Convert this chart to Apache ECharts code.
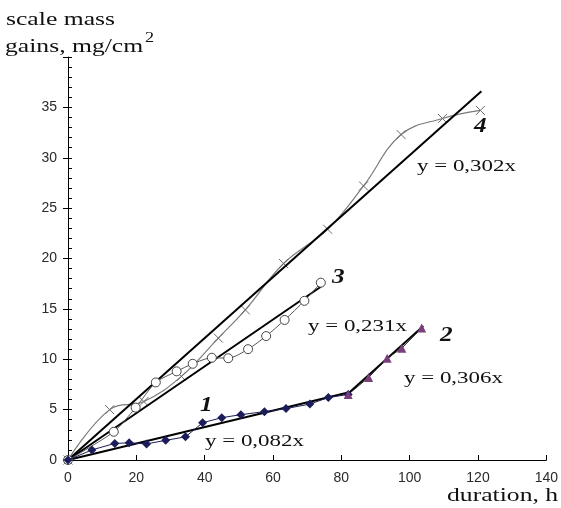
<!DOCTYPE html>
<html><head><meta charset="utf-8">
<script src="https://cdn.jsdelivr.net/npm/echarts@6/dist/echarts.min.js"></script>
<style>html,body{margin:0;padding:0;background:#fff}#c{width:561px;height:508px}</style>
</head><body><div id="c"></div>
<script>
// Series 1 (diamonds)
const s1x = [0, 7, 13.7, 17.9, 23, 28.6, 34.4, 39.4, 45, 50.6, 57.5, 63.8, 70.8, 76.2, 82];
const s1y = [0, 1.0, 1.65, 1.7, 1.6, 1.95, 2.3, 3.7, 4.2, 4.5, 4.8, 5.1, 5.55, 6.2, 6.5];
// Series 2 (triangles)
const s2x = [82, 88, 93.4, 97.7, 103.5];
const s2y = [6.5, 8.2, 10.1, 11.1, 13.1];
// Series 3 (circles)
const s3x = [0, 13.4, 19.8, 25.7, 31.8, 36.5, 42.1, 46.9, 52.7, 58, 63.4, 69.2, 74];
const s3y = [0, 2.8, 5.2, 7.7, 8.8, 9.55, 10.15, 10.1, 11.0, 12.3, 13.9, 15.8, 17.6];
// Series 4 (crosses)
const s4x = [0, 12.2, 22.2, 33.2, 44, 51.9, 63.1, 76, 86.5, 97.5, 109.6, 120.7];
const s4y = [0, 5.0, 5.8, 8.3, 12.1, 14.9, 19.5, 22.9, 27.2, 32.3, 33.9, 34.7];
// Trend lines (endpoints)
const t1x = [0, 82], t1y = [0, 6.7];
const t2x = [82, 104], t2y = [6.6, 13.3];
const t3x = [0, 74], t3y = [0, 17.2];
const t4x = [0, 121], t4y = [0, 36.6];
// Texts
const xTicks = [0, 20, 40, 60, 80, 100, 120, 140];
const yTicks = [0, 5, 10, 15, 20, 25, 30, 35];
const eqLabels = ['y = 0,082x', 'y = 0,306x', 'y = 0,231x', 'y = 0,302x'];
const numLabels = ['1', '2', '3', '4'];

const zip = (xs, ys) => xs.map((x, i) => [x, ys[i]]);
const chart = echarts.init(document.getElementById('c'));
const serif = '"Liberation Serif", "Times New Roman", serif';
const sans = '"Liberation Sans", Arial, sans-serif';
const crossPath = 'path://M0,0L10,10M10,0L0,10';

const trend = (xs, ys) => ({
  type: 'line', data: zip(xs, ys), symbol: 'none', silent: true, z: 3,
  lineStyle: { color: '#000', width: 2 }
});
const txt = (text, x, y, font, sx) => ({
  type: 'text', x: x, y: y, scaleX: sx, scaleY: 1,
  style: { text: text, font: font, fill: '#111', textVerticalAlign: 'middle', verticalAlign: 'middle' }
});

chart.setOption({
  animation: false,
  grid: { left: 68, right: 13, top: 57, bottom: 48 },
  xAxis: {
    type: 'value', min: 0, max: 140, interval: 20,
    splitLine: { show: false },
    axisLine: { lineStyle: { color: '#000', width: 1 } },
    axisTick: { inside: true, length: 5, lineStyle: { color: '#000' } },
    axisLabel: { color: '#2a2a2a', fontFamily: sans, fontSize: 14, margin: 11,
      formatter: v => xTicks.includes(v) ? String(v) : '' }
  },
  yAxis: [{
    type: 'value', min: 0, max: 40, interval: 5,
    splitLine: { show: false },
    axisLine: { lineStyle: { color: '#000', width: 1 } },
    axisTick: { inside: false, length: 5, lineStyle: { color: '#000' } },
    axisLabel: { color: '#2a2a2a', fontFamily: sans, fontSize: 14, margin: 11,
      formatter: v => yTicks.includes(v) ? String(v) : '' }
  }, {
    type: 'value', min: 0, max: 40, interval: 5, position: 'left',
    splitLine: { show: false },
    axisLine: { show: false },
    axisTick: { inside: true, length: 4, lineStyle: { color: '#000' } },
    minorTick: { show: true, splitNumber: 5, length: 4, lineStyle: { color: '#000' } },
    axisLabel: { show: false }
  }],
  series: [
    trend(t1x, t1y), trend(t2x, t2y), trend(t3x, t3y), trend(t4x, t4y),
    { type: 'line', data: zip(s4x, s4y), smooth: 0.4, symbol: crossPath, symbolSize: 9, z: 2,
      lineStyle: { color: '#7a7a7a', width: 1.2 },
      itemStyle: { color: 'transparent', borderColor: '#6a6a6a', borderWidth: 1 } },
    { type: 'line', data: zip(s3x, s3y), smooth: 0.25, symbol: 'circle', symbolSize: 9, z: 4,
      lineStyle: { color: '#555', width: 1 },
      itemStyle: { color: '#fff', borderColor: '#444', borderWidth: 1 } },
    { type: 'line', data: zip(s1x, s1y), symbol: 'diamond', symbolSize: 9, z: 5,
      lineStyle: { color: '#1c1c55', width: 1 },
      itemStyle: { color: '#1c1c5a' } },
    { type: 'line', data: zip(s2x, s2y), symbol: 'triangle', symbolSize: 9, z: 5,
      lineStyle: { color: '#222', width: 1 },
      itemStyle: { color: '#7a3f7a' } }
  ],
  graphic: [
    txt('scale mass', 6, 20, '19px ' + serif, 1.35),
    txt('gains, mg/cm', 5, 47, '19px ' + serif, 1.35),
    txt('2', 145, 38, '14px ' + serif, 1.3),
    txt('duration, h', 447, 496, '19px ' + serif, 1.35),
    txt(eqLabels[0], 205, 442, '17px ' + serif, 1.35),
    txt(eqLabels[1], 404, 379, '17px ' + serif, 1.35),
    txt(eqLabels[2], 308, 327, '17px ' + serif, 1.35),
    txt(eqLabels[3], 417, 167, '17px ' + serif, 1.35),
    txt(numLabels[0], 200, 406, 'italic bold 21px ' + serif, 1.2),
    txt(numLabels[1], 440, 336, 'italic bold 21px ' + serif, 1.2),
    txt(numLabels[2], 332, 278, 'italic bold 21px ' + serif, 1.2),
    txt(numLabels[3], 474, 127, 'italic bold 21px ' + serif, 1.2)
  ]
});
</script></body></html>
